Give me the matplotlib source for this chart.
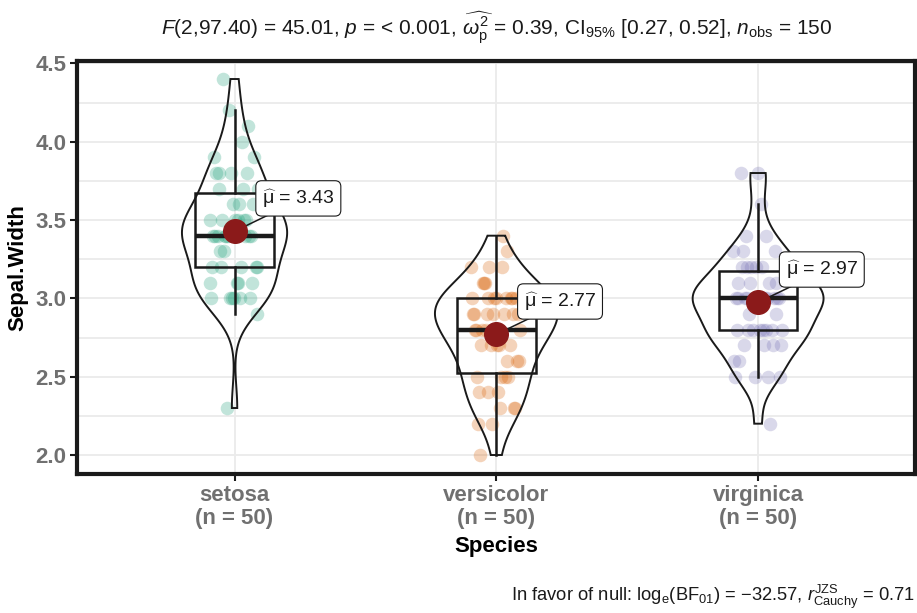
import numpy as np
import matplotlib
matplotlib.use("Agg")
import matplotlib.pyplot as plt
from matplotlib.ticker import MultipleLocator

plt.rcParams['font.family'] = ['Liberation Sans', 'DejaVu Sans']
plt.rcParams['mathtext.fontset'] = 'custom'
plt.rcParams['mathtext.rm'] = 'Liberation Sans'
plt.rcParams['mathtext.it'] = 'Liberation Sans:italic'
plt.rcParams['mathtext.bf'] = 'Liberation Sans:bold'

# ---------------- data ----------------
categories = ["setosa", "versicolor", "virginica"]
counts = [50, 50, 50]
setosa = [3.5, 3.0, 3.2, 3.1, 3.6, 3.9, 3.4, 3.4, 2.9, 3.1, 3.7, 3.4, 3.0, 3.0, 4.0, 4.4, 3.9, 3.5, 3.8, 3.8,
          3.4, 3.7, 3.6, 3.3, 3.4, 3.0, 3.4, 3.5, 3.4, 3.2, 3.1, 3.4, 4.1, 4.2, 3.1, 3.2, 3.5, 3.6, 3.0, 3.4,
          3.5, 2.3, 3.2, 3.5, 3.8, 3.0, 3.8, 3.2, 3.7, 3.3]
versicolor = [3.2, 3.2, 3.1, 2.3, 2.8, 2.8, 3.3, 2.4, 2.9, 2.7, 2.0, 3.0, 2.2, 2.9, 2.9, 3.1, 3.0, 2.7, 2.2, 2.5,
              3.2, 2.8, 2.5, 2.8, 2.9, 3.0, 2.8, 3.0, 2.9, 2.6, 2.4, 2.4, 2.7, 2.7, 3.0, 3.4, 3.1, 2.3, 3.0, 2.5,
              2.6, 3.0, 2.6, 2.3, 2.7, 3.0, 2.9, 2.9, 2.5, 2.8]
virginica = [3.3, 2.7, 3.0, 2.9, 3.0, 3.0, 2.5, 2.9, 2.5, 3.6, 3.2, 2.7, 3.0, 2.5, 2.8, 3.2, 3.0, 3.8, 2.6, 2.2,
             3.2, 2.8, 2.8, 2.7, 3.3, 3.2, 2.8, 3.0, 2.8, 3.0, 2.8, 3.8, 2.8, 2.8, 2.6, 3.0, 3.4, 3.1, 3.0, 3.1,
             3.1, 3.1, 2.7, 3.2, 3.3, 3.0, 2.5, 3.0, 3.4, 3.0]
groups = [setosa, versicolor, virginica]
mean_labels = ["3.43", "2.77", "2.97"]
yticks = [2.0, 2.5, 3.0, 3.5, 4.0, 4.5]

title = (r"$\mathit{F}$(2,97.40) = 45.01, $\mathit{p}$ = < 0.001, "
         r"$\widehat{\omega_{\mathrm{p}}^{2}}$ = 0.39, CI$_{95\%}$ [0.27, 0.52], "
         r"$\mathit{n}_{\mathrm{obs}}$ = 150")
caption = (r"In favor of null: log$_{\mathrm{e}}$(BF$_{01}$) = $-$32.57, "
           r"$\mathit{r}_{\mathrm{Cauchy}}^{\mathrm{JZS}}$ = 0.71")

colors = ["#1B9E77", "#D95F02", "#7570B3"]
mean_color = "#8B1A1A"

# ---------------- figure ----------------
fig = plt.figure(figsize=(9.17, 6.13), dpi=100)
ax = fig.add_axes([0.0845, 0.2268, 0.9135, 0.6742])

ax.set_xlim(0.4, 3.6)
ax.set_ylim(1.879, 4.517)

# grid
ax.set_axisbelow(True)
ax.yaxis.set_major_locator(MultipleLocator(0.5))
ax.yaxis.set_minor_locator(MultipleLocator(0.25))
ax.grid(True, which='major', axis='both', color='#EBEBEB', linewidth=1.3)
ax.grid(True, which='minor', axis='y', color='#EBEBEB', linewidth=1.3)
ax.tick_params(which='minor', left=False)


def kde(vals, grid):
    v = np.asarray(vals)
    n = len(v)
    q75, q25 = np.percentile(v, [75, 25])
    bw = 0.9 * min(v.std(ddof=1), (q75 - q25) / 1.34) * n ** (-0.2)
    z = (grid[:, None] - v[None, :]) / bw
    return np.exp(-0.5 * z ** 2).sum(axis=1) / (n * bw * np.sqrt(2 * np.pi))


grids, dens = [], []
for g in groups:
    gr = np.linspace(min(g), max(g), 512)
    grids.append(gr)
    dens.append(kde(g, gr))
dmax = max(d.max() for d in dens)

for i, g in enumerate(groups):
    pos = i + 1
    n = len(g)
    jit = ((np.arange(n) * 0.6180339887) % 1.0 - 0.5) * 0.19
    ax.scatter(pos + jit, g, s=95, color=colors[i], alpha=0.27, linewidths=0, zorder=2)

    # violin
    hw = dens[i] / dmax * 0.25
    xs = np.concatenate([pos + hw, (pos - hw)[::-1]])
    ys = np.concatenate([grids[i], grids[i][::-1]])
    ax.fill(xs, ys, facecolor='none', edgecolor='#1a1a1a', linewidth=1.4, zorder=3)

ax.boxplot(groups, positions=[1, 2, 3], widths=0.3, whis=1.5, showfliers=False,
           showcaps=False, patch_artist=True, manage_ticks=False,
           boxprops=dict(facecolor='none', edgecolor='#1a1a1a', linewidth=1.8),
           whiskerprops=dict(color='#1a1a1a', linewidth=1.8),
           medianprops=dict(color='#1a1a1a', linewidth=3.2),
           zorder=4)

for i, g in enumerate(groups):
    pos = i + 1
    m = float(np.mean(g))
    lx, ly = pos + 0.26, m + 0.21
    ax.plot([pos, lx], [m, ly], color='#1a1a1a', linewidth=1.1, zorder=5)
    ax.plot([pos], [m], 'o', color=mean_color, markersize=17, zorder=6)
    ax.text(pos + 0.105, ly, r"$\widehat{\mathrm{\mu}}$ = " + mean_labels[i], ha='left', va='center',
            fontsize=14, color='#1a1a1a', zorder=7,
            bbox=dict(boxstyle='round,pad=0.32,rounding_size=0.3', facecolor='white',
                      edgecolor='#1a1a1a', linewidth=0.8))

# axes styling
for sp in ax.spines.values():
    sp.set_linewidth(3)
    sp.set_color('#1a1a1a')
    sp.set_zorder(10)

ax.set_xticks([1, 2, 3])
ax.set_xticklabels([f"{c}\n(n = {n})" for c, n in zip(categories, counts)])
ax.set_yticks(yticks)
ax.set_yticklabels([f"{t:.1f}" for t in yticks])
ax.tick_params(axis='both', which='major', length=5, width=1.5, color='#1a1a1a',
               labelsize=16, labelcolor='#707070', pad=3)
for lab in ax.get_xticklabels() + ax.get_yticklabels():
    lab.set_fontweight('bold')
    lab.set_linespacing(1.12)

ax.set_ylabel("Sepal.Width", fontsize=16, fontweight='bold', color='black', labelpad=5)
ax.set_xlabel("Species", fontsize=16, fontweight='bold', color='black', labelpad=5)

fig.text(0.5415, 0.954, title, ha='center', va='center', fontsize=15, color='#1a1a1a')
fig.text(0.998, 0.026, caption, ha='right', va='center', fontsize=13.2, color='#1a1a1a')

fig.savefig("out.png", dpi=100)
